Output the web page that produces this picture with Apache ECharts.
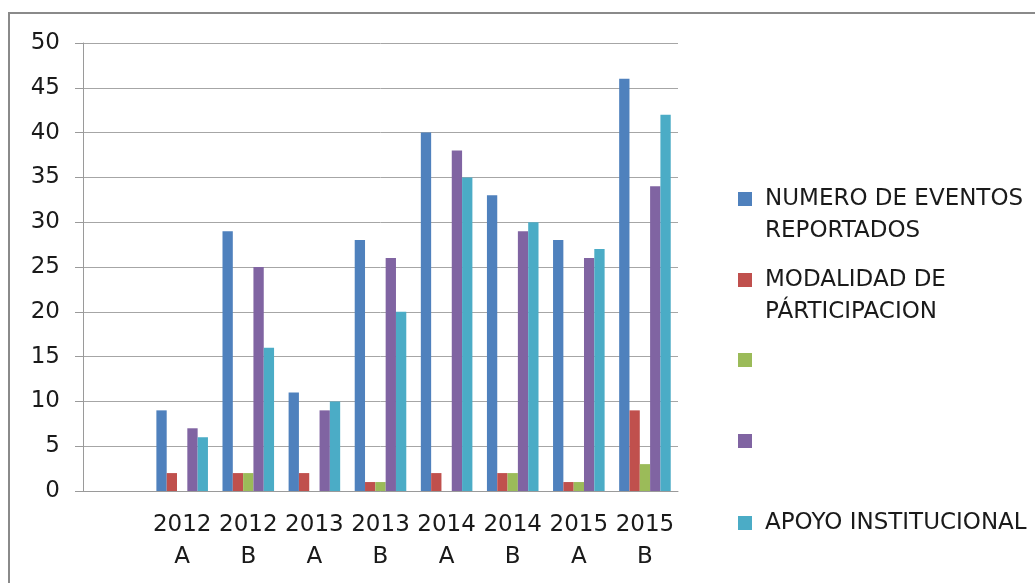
<!DOCTYPE html>
<html><head><meta charset="utf-8">
<script src="https://cdn.jsdelivr.net/npm/echarts@6/dist/echarts.min.js"></script>
<style>html,body{margin:0;padding:0;background:#fff}#c{width:1035px;height:583px}</style>
</head><body><div id="c"></div>
<script>
const categories = ['', '2012\nA', '2012\nB', '2013\nA', '2013\nB', '2014\nA', '2014\nB', '2015\nA', '2015\nB'];
const seriesNames = ['NUMERO DE EVENTOS REPORTADOS', 'MODALIDAD DE PÁRTICIPACION', 'Serie3', 'Serie4', 'APOYO INSTITUCIONAL'];
const legendLabels = ['NUMERO DE EVENTOS\nREPORTADOS', 'MODALIDAD DE\nPÁRTICIPACION', '', '', 'APOYO INSTITUCIONAL'];
const eventos = [null, 9, 29, 11, 28, 40, 33, 28, 46];
const modalidad = [null, 2, 2, 2, 1, 2, 2, 1, 9];
const serie3 = [null, 0, 2, 0, 1, 0, 2, 1, 3];
const serie4 = [null, 7, 25, 9, 26, 38, 29, 26, 34];
const apoyo = [null, 6, 16, 10, 20, 35, 30, 27, 42];
const yTicks = [0, 50, 5];

const colors = ['#4F81BD', '#C0504D', '#9BBB59', '#8064A2', '#4BACC6'];
const values = [eventos, modalidad, serie3, serie4, apoyo];
const font = 'DejaVu Sans';
const legendCenters = [199, 280, 360, 441, 523];

const chart = echarts.init(document.getElementById('c'));
const legends = seriesNames.map((n, i) => {
  const lbl = legendLabels[i];
  const lines = lbl.includes('\n') ? 3 : 1;
  return {
    orient: 'vertical', left: 733, top: legendCenters[i] - lines * 16 - 5,
    data: [n], itemWidth: 14, itemHeight: 14, icon: 'rect', selectedMode: false,
    formatter: () => lbl.includes('\n') ? '\n' + lbl : (lbl === '' ? ' ' : lbl),
    textStyle: { fontFamily: font, fontSize: 23, color: '#1a1a1a', lineHeight: 32, padding: [0, 0, 0, 8] }
  };
});
chart.setOption({
  animation: false,
  color: colors,
  graphic: [{ type: 'rect', shape: { x: 9, y: 13, width: 1100, height: 700 }, style: { fill: 'none', stroke: '#8a8a8a', lineWidth: 2 }, silent: true, z: -1 }],
  grid: { left: 83, top: 43, right: 357, bottom: 92 },
  legend: legends,
  xAxis: {
    type: 'category', data: categories,
    axisLine: { lineStyle: { color: '#9a9a9a', width: 1 } },
    axisTick: { length: 8, lineStyle: { color: '#9a9a9a' } },
    axisLabel: { interval: 0, margin: 18, fontFamily: font, fontSize: 23, color: '#1a1a1a', lineHeight: 32 }
  },
  yAxis: {
    type: 'value', min: yTicks[0], max: yTicks[1], interval: yTicks[2],
    axisLine: { show: true, lineStyle: { color: '#9a9a9a' } },
    axisTick: { show: true, length: 8, lineStyle: { color: '#9a9a9a' } },
    splitLine: { lineStyle: { color: '#a6a6a6', width: 1 } },
    axisLabel: { margin: 23, fontFamily: font, fontSize: 23, color: '#1a1a1a' }
  },
  series: seriesNames.map((n, i) => ({
    name: n, type: 'bar', data: values[i], barGap: '0%', barCategoryGap: '22%',
    itemStyle: { color: colors[i] }
  }))
});
</script></body></html>
